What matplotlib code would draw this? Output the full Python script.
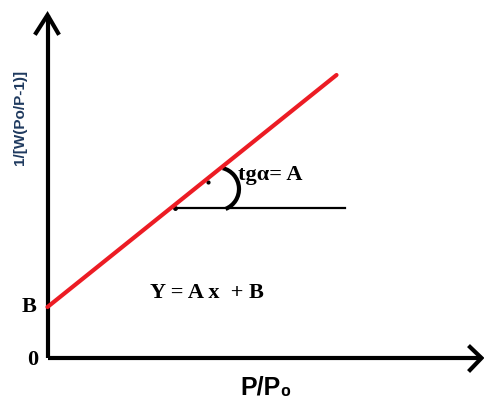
"""
plot.py - BET-style linear plot sketch: 1/[W(Po/P-1)] vs P/P0, Y = A x + B.
"""

import matplotlib
matplotlib.use("Agg")
import matplotlib.pyplot as plt
from matplotlib.patches import Arc

# Red fitted line, endpoints (origin at the axes corner)
line_x = [0, 289]
line_y = [51, 283]

# Horizontal reference line used for the slope angle
ref_x = [127.5, 297.5]
ref_y = [150, 150]

# Axis lengths and labels
x_axis_end = 434
y_axis_end = 343
x_label = "P/P\u2080"
y_label = "1/[W(Po/P-1)]"
slope_label = "tg\u03b1= A"
equation_label = "Y = A x  + B"
intercept_label = "B"
origin_label = "0"

SERIF = ["Liberation Serif", "DejaVu Serif"]
SANS = ["Liberation Sans", "DejaVu Sans"]


def main() -> None:
    fig = plt.figure(figsize=(4.84, 3.99), dpi=100)
    ax = fig.add_axes([0, 0, 1, 1])
    ax.set_xlim(-47.5, 436.5)
    ax.set_ylim(-41, 358)
    ax.axis("off")

    # axes with open chevron arrowheads
    ax.plot([0, 0], [0, y_axis_end], color="black", lw=3, solid_capstyle="butt")
    ax.plot([0, x_axis_end], [0, 0], color="black", lw=3, solid_capstyle="butt")
    ax.plot([-11.5, 0, 10.5], [325, y_axis_end, 325], color="black", lw=3,
            solid_joinstyle="miter")
    ax.plot([422.5, x_axis_end, 422.5], [11, 0, -12], color="black", lw=3,
            solid_joinstyle="miter")

    # fitted line and slope construction
    ax.plot(line_x, line_y, color="#ec1c24", lw=3, solid_capstyle="round", zorder=3)
    ax.plot(ref_x, ref_y, color="black", lw=1.6)
    ax.plot([ref_x[0]], [ref_y[0]], "o", color="black", ms=2.5)
    ax.plot([160.5], [176], "o", color="black", ms=2)
    ax.add_patch(Arc((170, 169), 43, 43, theta1=-68, theta2=76,
                     color="black", lw=3))

    # labels
    ax.text(-27.5, 241, y_label, rotation=90, ha="center", va="center",
            fontsize=11, fontweight="bold", color="#1f3a5f", family=SANS)
    ax.text(-18, 50.5, intercept_label, ha="center", va="center",
            fontsize=16, fontweight="bold", family=SERIF)
    ax.text(-15, -2, origin_label, ha="center", va="center",
            fontsize=16, fontweight="bold", family=SERIF)
    ax.text(190.5, 183, slope_label, ha="left", va="center",
            fontsize=16, fontweight="bold", family=SERIF)
    ax.text(102.5, 65.5, equation_label, ha="left", va="center",
            fontsize=16, fontweight="bold", family=SERIF)
    ax.text(192.5, -30, x_label, ha="left", va="center",
            fontsize=18, fontweight="bold", family=SANS)

    fig.savefig("out.png", dpi=100)
    plt.close(fig)


if __name__ == "__main__":
    main()
